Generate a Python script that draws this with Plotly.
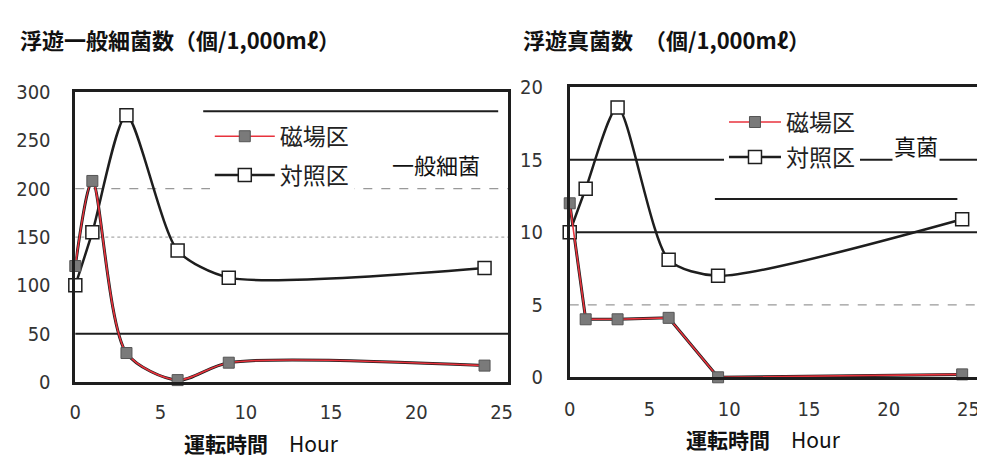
import plotly.graph_objects as go

# ---------------- data ----------------
# Left chart: airborne general bacteria
hours_L = [0, 1, 3, 6, 9, 24]
mag_L = [120, 208, 30, 2, 20, 17]          # 磁場区
ctrl_L = [100, 155, 276, 136, 108, 118]    # 対照区

# Right chart: airborne fungi
hours_R = [0, 1, 3, 6.2, 9.3, 24.6]
mag_R = [12, 4, 4, 4.1, 0, 0.2]            # 磁場区
ctrl_R = [10, 13, 18.6, 8.1, 7, 10.9]      # 対照区

x_ticks = [0, 5, 10, 15, 20, 25]
y_ticks_L = [0, 50, 100, 150, 200, 250, 300]
y_ticks_R = [0, 5, 10, 15, 20]

series_names = ["磁場区", "対照区"]
title_L = "浮遊一般細菌数（個/1,000mℓ）"
title_R = "浮遊真菌数　（個/1,000mℓ）"
xlabel = "<b>運転時間</b>　Hour"
tag_L = "一般細菌"
tag_R = "真菌"

RED = "#e8323c"
BLACK = "#1e1e1e"
GRAY = "#7a7a7a"
JP = "Noto Sans CJK JP"
TICKF = "Liberation Sans Narrow, DejaVu Sans Condensed, sans-serif"

fig = go.Figure()

def add_panel(xs, mag, ctrl, xa, ya, legend, mag_shape):
    # printed black line under the magnetic-field series
    fig.add_trace(go.Scatter(x=xs, y=mag, mode="lines", xaxis=xa, yaxis=ya,
                             line=dict(color=BLACK, width=3, shape=mag_shape, smoothing=0.8),
                             showlegend=False, hoverinfo="skip"))
    # control
    fig.add_trace(go.Scatter(x=xs, y=ctrl, mode="lines+markers", name=series_names[1],
                             xaxis=xa, yaxis=ya, legend=legend, legendgroup="b",
                             line=dict(color=BLACK, width=2.5, shape="spline", smoothing=0.7),
                             marker=dict(symbol="square", size=13, color="white",
                                         line=dict(color=BLACK, width=1.5)),
                             cliponaxis=False, legendrank=2))
    # magnetic field
    fig.add_trace(go.Scatter(x=xs, y=mag, mode="lines+markers", name=series_names[0],
                             xaxis=xa, yaxis=ya, legend=legend, legendgroup="a",
                             line=dict(color=RED, width=1.6, shape=mag_shape, smoothing=0.8),
                             marker=dict(symbol="square", size=11, color=GRAY,
                                         line=dict(color="#555", width=1)),
                             cliponaxis=False, legendrank=1))

add_panel(hours_L, mag_L, ctrl_L, "x", "y", "legend", "spline")
add_panel(hours_R, mag_R, ctrl_R, "x2", "y2", "legend2", "linear")

W, H = 985, 459
def px(x):
    return x / W
def py(y):
    return 1 - y / H

axis_common = dict(showline=True, mirror=True, linecolor=BLACK, linewidth=2.5,
                   showgrid=False, zeroline=False, ticks="",
                   tickfont=dict(family=TICKF, size=20, color="#333"))

fig.update_layout(
    width=W, height=H, margin=dict(l=0, r=0, t=0, b=0),
    paper_bgcolor="white", plot_bgcolor="white",
    xaxis=dict(domain=[px(62), px(500)], range=[0, 25.4], tickvals=x_ticks,
               ticklabelstandoff=10, anchor="y", **axis_common),
    yaxis=dict(domain=[py(382), py(76)], range=[0, 300], tickvals=y_ticks_L,
               ticklabelstandoff=18, anchor="x", **axis_common),
    xaxis2=dict(domain=[px(562), px(975)], range=[0, 25.6], tickvals=x_ticks,
                ticklabelstandoff=12, anchor="y2", **axis_common),
    yaxis2=dict(domain=[py(377), py(71)], range=[0, 20], tickvals=y_ticks_R,
                ticklabelstandoff=20, anchor="x2", **axis_common),
    legend=dict(x=px(198), y=py(100), xanchor="left", yanchor="top",
                bgcolor="white", borderwidth=0, itemwidth=60, tracegroupgap=6,
                font=dict(family=JP, size=23, color="#222"), itemclick=False),
    legend2=dict(x=px(718), y=py(85), xanchor="left", yanchor="top",
                 bgcolor="white", borderwidth=0, itemwidth=52, tracegroupgap=2,
                 font=dict(family=JP, size=23, color="#222"), itemclick=False),
    showlegend=True,
)

# reference / grid lines
shapes = []
def hline(xref, yref, y, x0, x1, color, width, dash="solid"):
    shapes.append(dict(type="line", xref=xref, yref=yref, x0=x0, x1=x1, y0=y, y1=y,
                       line=dict(color=color, width=width, dash=dash), layer="below"))
hline("x domain", "y", 50, 0, 1, BLACK, 2)
hline("x domain", "y", 150, 0, 1, "#aaa", 1.2, "dot")
hline("x domain", "y", 200, 0, 1, "#999", 1.2, "dash")
hline("x", "y", 280, 7.5, 24.8, BLACK, 2)
hline("x2 domain", "y2", 5, 0, 1, "#999", 1.2, "dash")
hline("x2 domain", "y2", 10, 0, 1, BLACK, 2)
hline("x2 domain", "y2", 15, 0, 1, BLACK, 2)
hline("x2", "y2", 12.3, 9.1, 24.3, BLACK, 2)
fig.update_layout(shapes=shapes)

ann = []
def text(x, y, t, size, xanchor="left", bg=None, color="#111", weight="normal"):
    d = dict(x=px(x), y=py(y), xref="paper", yref="paper", text=t, showarrow=False,
             xanchor=xanchor, yanchor="middle",
             font=dict(family=JP, size=size, color=color, weight=weight))
    if bg:
        d["bgcolor"] = bg
    ann.append(d)

text(4, 20, title_L, 22, weight="bold")
text(513, 20, title_R, 22, weight="bold")
text(380, 152, tag_L, 22, bg="white")
text(888, 132, tag_R, 22, bg="white")
text(250, 446, xlabel, 21, xanchor="center")
text(758, 442, xlabel, 21, xanchor="center")
fig.update_layout(annotations=ann)

fig.write_html("out.html")
